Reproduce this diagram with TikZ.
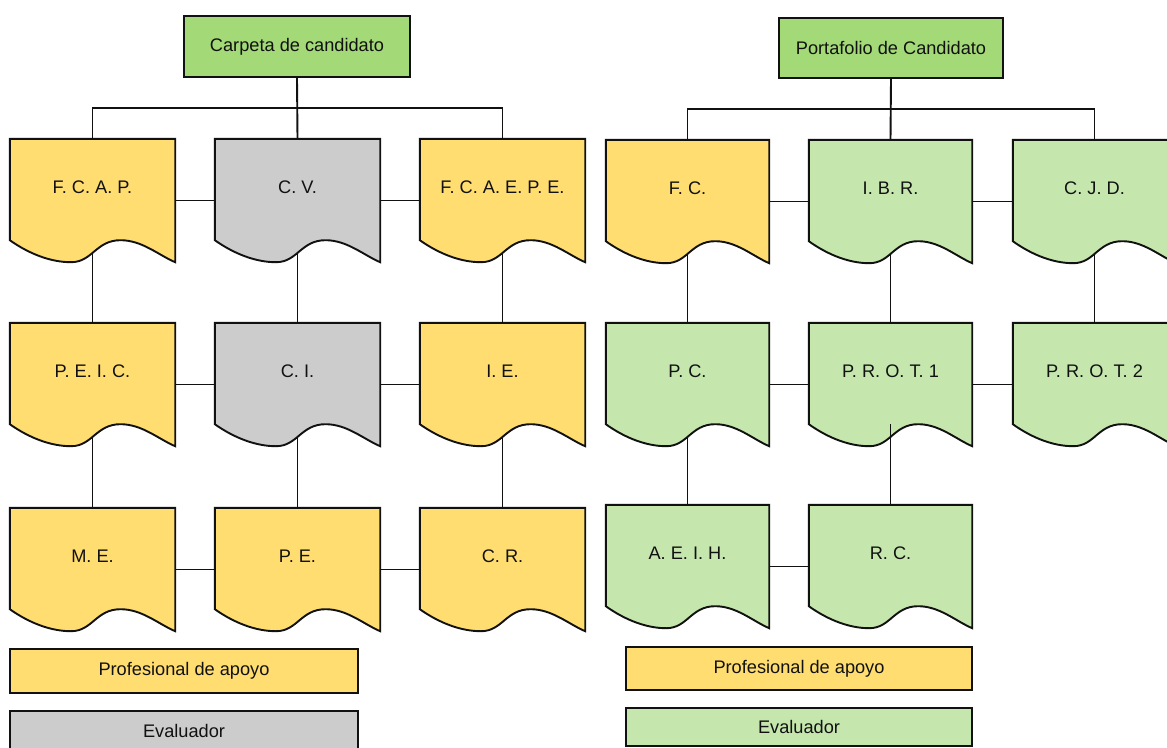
\documentclass[tikz,border=0pt]{standalone}
\usepackage{fontspec}
\setmainfont{Liberation Sans}
\usetikzlibrary{calc}
\definecolor{hdrgreen}{HTML}{A3D977}
\definecolor{ltgreen}{HTML}{C5E7AD}
\definecolor{docyellow}{HTML}{FFDD71}
\definecolor{docgray}{HTML}{CCCCCC}
\definecolor{ink}{HTML}{111111}
\pgfdeclarelayer{bg}
\pgfdeclarelayer{docs}
\pgfsetlayers{bg,docs,main}
\tikzset{
  lbl/.style={font=\fontsize{18.2}{20}\selectfont, text=ink},
  boxnode/.style={draw=ink, line width=1.9pt, inner sep=0pt, lbl},
  docnode/.style={inner sep=0pt, minimum height=123},
  docline/.style={draw=ink, line width=1.9pt, line join=miter},
  conn/.style={draw=ink, line width=1.9pt},
}
\newcommand\docpath[2]{%
  \path[docline,fill=#2] let \p1=(#1.south west), \p2=(#1.north east), \n1={\x2-\x1} in
    (\x1,\y2) -- (\x2,\y2) -- (\x2,\y1)
    .. controls ({\x1+0.9*\n1},{\y1+7pt}) and ({\x1+0.8*\n1},{\y1+22pt}) .. ({\x1+0.67*\n1},{\y1+22pt})
    .. controls ({\x1+0.52*\n1},{\y1+22pt}) and ({\x1+0.5*\n1},\y1) .. ({\x1+0.37*\n1},\y1)
    .. controls ({\x1+0.25*\n1},\y1) and ({\x1+0.12*\n1},{\y1+8pt}) .. (\x1,{\y1+22pt}) -- cycle;}
\begin{document}
\begin{tikzpicture}[x=1pt,y=-1pt]
\useasboundingbox (0,0) rectangle (1167,747);
% ---------- left chart ----------
\node[boxnode, fill=hdrgreen, minimum width=226, minimum height=61] (cand) at (297,46.5) {Carpeta de candidato};
\node[docnode, minimum width=165, label={[lbl,yshift=13pt]center:F. C. A. P.}] (fcap) at (92.5,200.5) {};
\node[docnode, minimum width=165, label={[lbl,yshift=13pt]center:C. V.}] (cv) at (297.5,200.5) {};
\node[docnode, minimum width=165, label={[lbl,yshift=13pt]center:F. C. A. E. P. E.}] (fcaepe) at (502.5,200.5) {};
\node[docnode, minimum width=165, label={[lbl,yshift=13pt]center:P. E. I. C.}] (peic) at (92.5,384.5) {};
\node[docnode, minimum width=165, label={[lbl,yshift=13pt]center:C. I.}] (ci) at (297.5,384.5) {};
\node[docnode, minimum width=165, label={[lbl,yshift=13pt]center:I. E.}] (ie) at (502.5,384.5) {};
\node[docnode, minimum width=165, label={[lbl,yshift=13pt]center:M. E.}] (me) at (92.5,569.5) {};
\node[docnode, minimum width=165, label={[lbl,yshift=13pt]center:P. E.}] (pe) at (297.5,569.5) {};
\node[docnode, minimum width=165, label={[lbl,yshift=13pt]center:C. R.}] (cr) at (502.5,569.5) {};
\node[boxnode, fill=docyellow, minimum width=348, minimum height=44] (lp1) at (184,671) {Profesional de apoyo};
\node[boxnode, fill=docgray, minimum width=348, minimum height=40] (le1) at (184,731) {Evaluador};
% ---------- right chart ----------
\node[boxnode, fill=hdrgreen, minimum width=224, minimum height=60] (port) at (891,48) {Portafolio de Candidato};
\node[docnode, minimum width=163, label={[lbl,yshift=13pt]center:F. C.}] (fc) at (687.5,201.5) {};
\node[docnode, minimum width=163, label={[lbl,yshift=13pt]center:I. B. R.}] (ibr) at (890.5,201.5) {};
\node[docnode, minimum width=163, label={[lbl,yshift=13pt]center:C. J. D.}] (cjd) at (1094.5,201.5) {};
\node[docnode, minimum width=163, label={[lbl,yshift=13pt]center:P. C.}] (pc) at (687.5,384.5) {};
\node[docnode, minimum width=163, label={[lbl,yshift=13pt]center:P. R. O. T. 1}] (prot1) at (890.5,384.5) {};
\node[docnode, minimum width=163, label={[lbl,yshift=13pt]center:P. R. O. T. 2}] (prot2) at (1094.5,384.5) {};
\node[docnode, minimum width=163, label={[lbl,yshift=13pt]center:A. E. I. H.}] (aeih) at (687.5,566.5) {};
\node[docnode, minimum width=163, label={[lbl,yshift=13pt]center:R. C.}] (rc) at (890.5,566.5) {};
\node[boxnode, fill=docyellow, minimum width=346, minimum height=43] (lp2) at (799,668.5) {Profesional de apoyo};
\node[boxnode, fill=ltgreen, minimum width=346, minimum height=38] (le2) at (799,727) {Evaluador};
% ---------- document shapes ----------
\begin{pgfonlayer}{docs}
\docpath{fcap}{docyellow}
\docpath{cv}{docgray}
\docpath{fcaepe}{docyellow}
\docpath{peic}{docyellow}
\docpath{ci}{docgray}
\docpath{ie}{docyellow}
\docpath{me}{docyellow}
\docpath{pe}{docyellow}
\docpath{cr}{docyellow}
\docpath{fc}{docyellow}
\docpath{ibr}{ltgreen}
\docpath{cjd}{ltgreen}
\docpath{pc}{ltgreen}
\docpath{prot1}{ltgreen}
\docpath{prot2}{ltgreen}
\docpath{aeih}{ltgreen}
\docpath{rc}{ltgreen}
\end{pgfonlayer}
% ---------- connectors ----------
\begin{pgfonlayer}{bg}
\draw[conn] (cand.south) -- (cv.north);
\draw[conn] (fcap.north) -- ++(0,-31) -| (fcaepe.north);
\draw[conn] (fcap.center) -- (cv.center) -- (fcaepe.center);
\draw[conn] (peic.center) -- (ci.center) -- (ie.center);
\draw[conn] (me.center) -- (pe.center) -- (cr.center);
\draw[conn] (fcap.center) -- (peic.center) -- (me.center);
\draw[conn] (cv.center) -- (ci.center) -- (pe.center);
\draw[conn] (fcaepe.center) -- (ie.center) -- (cr.center);
\draw[conn] (port.south) -- (ibr.north);
\draw[conn] (fc.north) -- ++(0,-31) -| (cjd.north);
\draw[conn] (fc.center) -- (ibr.center) -- (cjd.center);
\draw[conn] (pc.center) -- (prot1.center) -- (prot2.center);
\draw[conn] (aeih.center) -- (rc.center);
\draw[conn] (fc.center) -- (pc.center) -- (aeih.center);
\draw[conn] (ibr.center) -- (prot1.center);
\draw[conn] (cjd.center) -- (prot2.center);
\end{pgfonlayer}
\coordinate (p1s) at ($(prot1.center)+(0,39.5)$);
\draw[conn] (p1s) -- (rc.north);
\end{tikzpicture}
\end{document}
